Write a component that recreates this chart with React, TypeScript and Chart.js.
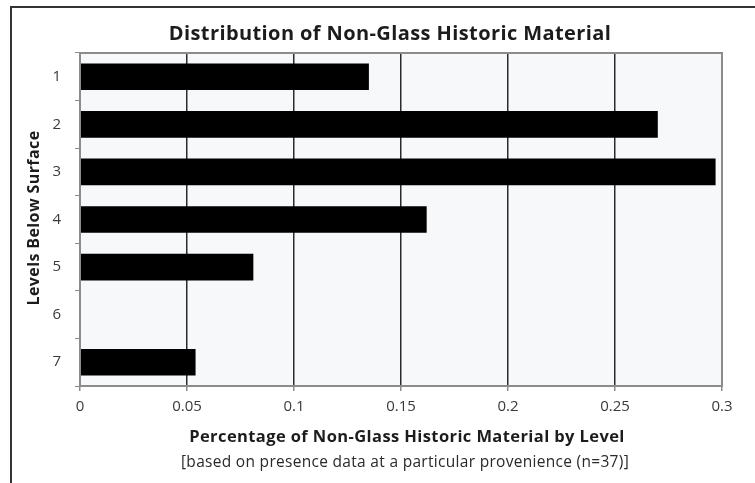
import React, { useEffect, useRef } from "react";
import { Chart, registerables } from "chart.js";

Chart.register(...registerables);

const chartTitle = "Distribution of Non-Glass Historic Material";
const yAxisTitle = "Levels Below Surface";
const xAxisTitle = "Percentage of Non-Glass Historic Material by Level";
const xAxisSubtitle = "[based on presence data at a particular provenience (n=37)]";

const levels = ["1", "2", "3", "4", "5", "6", "7"];
const shares = [0.135, 0.27, 0.297, 0.162, 0.081, 0, 0.054];
const xTickLabels = ["0", "0.05", "0.1", "0.15", "0.2", "0.25", "0.3"];

const FONT = "'Open Sans', 'DejaVu Sans', sans-serif";

const decorPlugin = {
  id: "decor",
  beforeDraw(chart: any) {
    const { ctx, chartArea: a } = chart;
    ctx.save();
    ctx.fillStyle = "#f6f8f9";
    ctx.fillRect(a.left, a.top, a.right - a.left, a.bottom - a.top);
    ctx.restore();
  },
  afterDraw(chart: any) {
    const { ctx, chartArea: a } = chart;
    ctx.save();
    ctx.strokeStyle = "#8c8c8c";
    ctx.lineWidth = 2;
    ctx.strokeRect(a.left, a.top, a.right - a.left, a.bottom - a.top);

    ctx.fillStyle = "#1c1c1c";
    ctx.textAlign = "center";
    ctx.textBaseline = "middle";
    ctx.letterSpacing = "0.4px";
    ctx.font = `bold 20px ${FONT}`;
    ctx.fillText(chartTitle, 390, 34);

    ctx.font = `bold 16.5px ${FONT}`;
    ctx.fillText(xAxisTitle, 407, 437);

    ctx.fillStyle = "#2a2a2a";
    ctx.letterSpacing = "0.3px";
    ctx.font = `15.5px ${FONT}`;
    ctx.fillText(xAxisSubtitle, 405, 463);

    ctx.fillStyle = "#1c1c1c";
    ctx.letterSpacing = "0.4px";
    ctx.translate(34, 218);
    ctx.rotate(-Math.PI / 2);
    ctx.font = `bold 16px ${FONT}`;
    ctx.fillText(yAxisTitle, 0, 0);
    ctx.restore();
  },
};

export default function App() {
  const ref = useRef<HTMLCanvasElement | null>(null);

  useEffect(() => {
    if (!ref.current) return;
    const chart = new Chart(ref.current, {
      type: "bar",
      data: {
        labels: levels,
        datasets: [
          {
            data: shares,
            backgroundColor: "#000000",
            borderWidth: 0,
            barPercentage: 0.56,
            categoryPercentage: 1,
          },
        ],
      },
      options: {
        indexAxis: "y",
        animation: false,
        responsive: false,
        maintainAspectRatio: false,
        layout: { padding: { top: 53, left: 0, right: 33, bottom: 0 } },
        plugins: {
          legend: { display: false },
          title: { display: false },
          tooltip: { enabled: false },
        },
        scales: {
          x: {
            type: "linear",
            min: 0,
            max: 0.3,
            ticks: {
              stepSize: 0.05,
              padding: 7,
              color: "#3a3a3a",
              font: { family: FONT, size: 15 },
              callback: (_v: any, i: number) => xTickLabels[i],
            },
            grid: {
              color: (c: any) =>
                c.index === 0 || c.index === xTickLabels.length - 1 ? "rgba(0,0,0,0)" : "#2b2b2b",
              lineWidth: 1.5,
              tickColor: "#8c8c8c",
              tickLength: 5,
            },
            border: { display: true, color: "#8c8c8c", width: 2 },
            afterFit: (s: any) => {
              s.height = 97;
            },
          },
          y: {
            type: "category",
            ticks: {
              padding: 14,
              color: "#3a3a3a",
              font: { family: FONT, size: 15 },
            },
            grid: {
              offset: true,
              drawOnChartArea: false,
              tickColor: "#8c8c8c",
              tickLength: 5,
              lineWidth: 1,
            },
            border: { display: true, color: "#8c8c8c", width: 2 },
            afterFit: (s: any) => {
              s.width = 80;
            },
          },
        },
      },
      plugins: [decorPlugin],
    });
    return () => chart.destroy();
  }, []);

  return (
    <div
      style={{
        position: "absolute",
        left: 0,
        top: 0,
        width: 755,
        height: 483,
        overflow: "hidden",
        background: "#ffffff",
      }}
    >
      <div
        style={{
          position: "absolute",
          left: 10,
          top: 6,
          width: 900,
          height: 700,
          borderLeft: "2px solid #333333",
          borderTop: "2px solid #333333",
        }}
      />
      <canvas
        ref={ref}
        width={755}
        height={483}
        style={{ position: "absolute", left: 0, top: 0, width: 755, height: 483 }}
      />
    </div>
  );
}
